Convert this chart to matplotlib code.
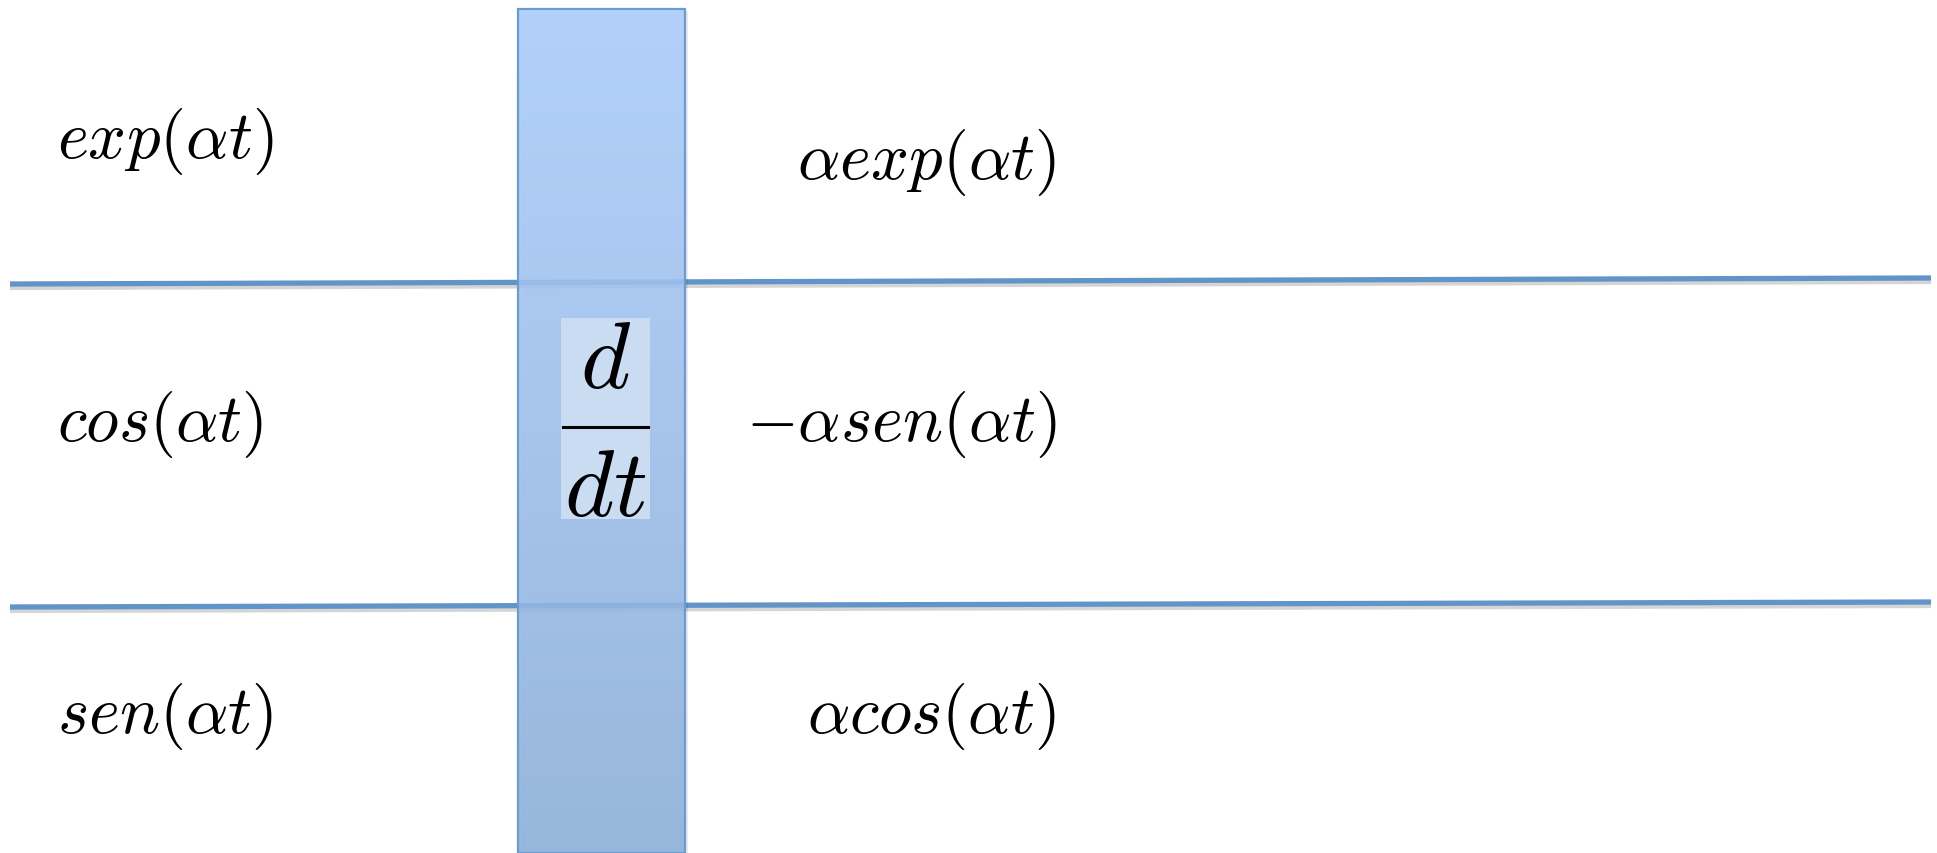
import numpy as np
import matplotlib
matplotlib.use("Agg")
import matplotlib.pyplot as plt
from matplotlib.colors import LinearSegmentedColormap
from matplotlib.patches import Rectangle
import matplotlib.patheffects as pe

plt.rcParams['mathtext.fontset'] = 'cm'

# functions (left) and their derivatives (right)
left_labels = [r'$exp(\alpha t)$', r'$cos(\alpha t)$', r'$sen(\alpha t)$']
right_labels = [r'$\alpha exp(\alpha t)$', r'$-\alpha sen(\alpha t)$', r'$\alpha cos(\alpha t)$']
operator_num = r'$d$'
operator_den = r'$dt$'

W, H = 1937, 854
fig = plt.figure(figsize=(W / 100, H / 100), dpi=100)
ax = fig.add_axes([0, 0, 1, 1])
ax.set_xlim(0, W)
ax.set_ylim(H, 0)
ax.axis('off')

line_col = '#6194c9'
shadow = [pe.SimpleLineShadow(offset=(0, -2.5), shadow_color='#888888', alpha=0.35),
          pe.Normal()]

# separators between rows (slightly tilted as in the original)
separators = [(285, 279), (608, 603)]
for y0, y1 in separators:
    ax.plot([10, 1931], [y0, y1], color=line_col, lw=3.8, solid_capstyle='butt',
            path_effects=shadow, zorder=2)

# the vertical operator bar with a gradient
cmap = LinearSegmentedColormap.from_list('bar', ['#aacdfc', '#9ebfec', '#8cb0d8'])
grad = np.linspace(0, 1, 256).reshape(-1, 1)
bx0, bx1, by0, by1 = 518, 685, 10, 854
ax.add_patch(Rectangle((bx0 + 3, by0 + 2), bx1 - bx0, by1 - by0, facecolor='#000000',
                       alpha=0.08, edgecolor='none', zorder=3))
ax.imshow(grad, cmap=cmap, extent=(bx0, bx1, by1, by0), aspect='auto',
          alpha=0.88, zorder=4, interpolation='bilinear')
ax.add_patch(Rectangle((bx0, by0), bx1 - bx0, by1 - by0, facecolor='none',
                       edgecolor='#6a9bd2', lw=1.6, zorder=5))
ax.set_xlim(0, W)
ax.set_ylim(H, 0)

# d/dt box
ax.add_patch(Rectangle((561, 319), 89, 201, facecolor='#cadcf1', edgecolor='none', zorder=6))
ax.text(605.5, 388, operator_num, ha='center', va='baseline', fontsize=68, zorder=7)
ax.text(605.5, 516, operator_den, ha='center', va='baseline', fontsize=68, zorder=7)
ax.plot([563, 648], [428, 428], color='black', lw=2.2, zorder=7)

# row labels
left_base = [158, 441, 733]
right_base = [179, 441, 733]
for lab, yb in zip(left_labels, left_base):
    ax.text(57, yb, lab, ha='left', va='baseline', fontsize=48, zorder=7)
for lab, yb in zip(right_labels, right_base):
    ax.text(1056, yb, lab, ha='right', va='baseline', fontsize=48, zorder=7)

fig.savefig('out.png', dpi=100)
